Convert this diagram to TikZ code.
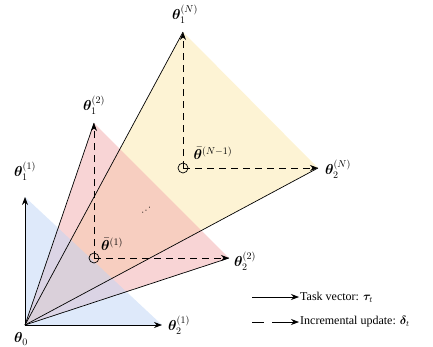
\documentclass[tikz,border=0pt]{standalone}
\usepackage{amsmath}
\usepackage{bm}
\usepackage{fontspec}
\newfontfamily\legfont{Liberation Serif}
\usetikzlibrary{arrows.meta}
\definecolor{fblue}{RGB}{190,212,245}
\definecolor{fred}{RGB}{242,170,172}
\definecolor{fyel}{RGB}{252,232,170}
\tikzset{
  tip/.style={-{Stealth[length=8pt,width=6pt]}},
  vec/.style={line width=0.7pt},
  inc/.style={line width=0.7pt,dash pattern=on 7pt off 5pt},
  region/.style={fill opacity=0.5,draw=none},
  lbl/.style={inner sep=0pt,font=\fontsize{14}{16}\selectfont},
  legtext/.style={inner sep=0pt,anchor=west,font=\legfont\fontsize{12}{14}\selectfont}
}
\begin{document}
\begin{tikzpicture}[x=1pt,y=-1pt]
\useasboundingbox (0,0) rectangle (433,346);
% points
\coordinate (O) at (25,325);
\coordinate (a1) at (25,197);
\coordinate (b1) at (162,325);
\coordinate (c1) at (94,258);
\coordinate (a2) at (94,123);
\coordinate (b2) at (229,258);
\coordinate (cN) at (183,168);
\coordinate (aN) at (183,32);
\coordinate (bN) at (318,168);
% regions
\fill[region,fill=fyel] (O) -- (aN) -- (bN) -- cycle;
\fill[region,fill=fred] (O) -- (a2) -- (b2) -- cycle;
\fill[region,fill=fblue] (O) -- (a1) -- (b1) -- cycle;
% task vectors
\draw[vec,tip] (O) -- (a1);
\draw[vec,tip] (O) -- (b1);
\draw[vec] (O) -- (a2);
\draw[vec] (O) -- (b2);
\draw[vec] (O) -- (aN);
\draw[vec] (O) -- (bN);
% incremental updates
\draw[inc,tip] (c1) -- (a2);
\draw[inc,tip] (c1) -- (b2);
\draw[inc,tip] (cN) -- (aN);
\draw[inc,tip] (cN) -- (bN);
\draw[line width=0.7pt] (c1) circle (5);
\draw[line width=0.7pt] (cN) circle (5);
% labels
\node[lbl] (lO) at (21,339) {$\bm{\theta}_0$};
\node[lbl] (la1) at (25,171) {$\bm{\theta}_1^{(1)}$};
\node[lbl] (lb1) at (179,325) {$\bm{\theta}_2^{(1)}$};
\node[lbl] (la2) at (94,105) {$\bm{\theta}_1^{(2)}$};
\node[lbl] (lb2) at (245,261) {$\bm{\theta}_2^{(2)}$};
\node[lbl] (lc1) at (112,244) {$\bar{\bm{\theta}}^{(1)}$};
\node[lbl] (laN) at (185,14) {$\bm{\theta}_1^{(N)}$};
\node[lbl] (lbN) at (338,169) {$\bm{\theta}_2^{(N)}$};
\node[lbl] (lcN) at (213,153) {$\bar{\bm{\theta}}^{(N-1)}$};
\node[inner sep=0pt,rotate=40] (dots) at (147,210) {$\cdots$};
% legend
\coordinate (s1) at (252,297);
\coordinate (e1) at (299,297);
\coordinate (s2) at (252,322);
\coordinate (e2) at (299,322);
\draw[vec,tip] (s1) -- (e1);
\draw[line width=0.7pt,dash pattern=on 12pt off 8pt on 40pt,tip] (s2) -- (e2);
\node[legtext] (t1) at (300,297) {Task vector: $\bm{\tau}_t$};
\node[legtext] (t2) at (300,322) {Incremental update: $\bm{\delta}_t$};
\end{tikzpicture}
\end{document}
